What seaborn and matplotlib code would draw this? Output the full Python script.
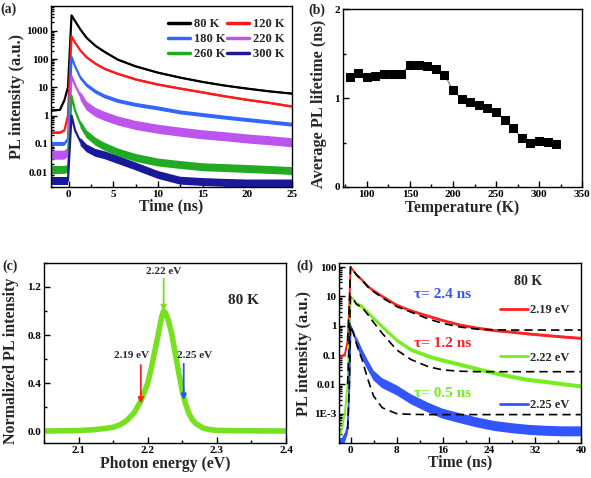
import numpy as np
import pandas as pd
import matplotlib
matplotlib.use("Agg")
import matplotlib.pyplot as plt
import matplotlib.ticker as mticker
import seaborn as sns

# ================= data =================
# (a) PL decay at different temperatures
t_a = [-2.0, -1.0, -0.5, -0.1, 0.3, 0.7, 1.3, 2.0, 3.0, 4.0, 5.5, 7.5,
       10, 12.5, 15, 17.5, 20, 22.5, 25]
pl_80k = [1.5, 1.6, 3.5, 10, 3500, 2200, 1100, 560, 290, 180, 95, 55,
          33, 22, 15.5, 11.5, 9.0, 7.2, 6.0]
pl_120k = [0.25, 0.25, 0.3, 1.0, 630, 380, 200, 115, 68, 45, 30, 19,
           12.5, 9.0, 6.6, 4.8, 3.6, 2.8, 2.1]
pl_180k = [0.1, 0.1, 0.1, 0.15, 120, 55, 22, 12, 7.0, 4.8, 3.3, 2.4,
           1.8, 1.3, 1.05, 0.85, 0.7, 0.58, 0.48]
pl_220k = [0.04, 0.04, 0.04, 0.05, 25, 12, 5.0, 2.2, 1.3, 0.95, 0.65, 0.45,
           0.33, 0.26, 0.21, 0.18, 0.15, 0.13, 0.11]
pl_260k = [0.012, 0.012, 0.012, 0.013, 5.0, 1.5, 0.5, 0.22, 0.12, 0.08, 0.05, 0.032,
           0.022, 0.018, 0.015, 0.014, 0.013, 0.012, 0.011]
pl_300k = [0.005, 0.005, 0.005, 0.005, 1.0, 0.3, 0.12, 0.07, 0.048, 0.04, 0.027, 0.016,
           0.008, 0.005, 0.0045, 0.0042, 0.004, 0.004, 0.004]
labels_a = ["80 K", "120 K", "180 K", "220 K", "260 K", "300 K"]
noise_a = [0.03, 0.04, 0.07, 0.16, 0.14, 0.14]   # noise band half width (decades)

# (b) average lifetime vs temperature
temp_b = [80, 90, 100, 110, 120, 130, 140, 150, 160, 170, 180, 190, 200,
          210, 220, 230, 240, 250, 260, 270, 280, 290, 300, 310, 320]
tau_b = [1.233, 1.286, 1.24, 1.25, 1.267, 1.267, 1.27, 1.376, 1.368, 1.357, 1.327, 1.263, 1.09,
         0.985, 0.959, 0.917, 0.883, 0.846, 0.752, 0.662, 0.549, 0.496, 0.515, 0.511, 0.485]

# (c) normalized PL spectrum at 80 K
energy_c = [2.05, 2.08, 2.10, 2.12, 2.14, 2.15, 2.16, 2.17, 2.18, 2.19, 2.20, 2.205,
            2.21, 2.215, 2.22, 2.223, 2.226, 2.23, 2.235, 2.24, 2.245, 2.25, 2.255,
            2.26, 2.265, 2.27, 2.28, 2.29, 2.30, 2.33, 2.40]
pl_c = [0.0, 0.002, 0.004, 0.010, 0.022, 0.032, 0.052, 0.09, 0.15, 0.25, 0.40, 0.52,
        0.66, 0.80, 0.95, 1.0, 0.98, 0.92, 0.80, 0.64, 0.48, 0.33, 0.22,
        0.14, 0.09, 0.06, 0.025, 0.011, 0.005, 0.002, 0.0]

# (d) PL decay at three photon energies, 80 K
t_d = [-2, -1.5, -1, -0.5, -0.2, 0, 0.5, 1, 2, 3, 4, 5.5, 8, 10.5, 13.5, 16,
       19, 22, 25, 28, 31, 34, 37, 40]
pl_219 = [0.08, 0.09, 0.1, 0.3, 5, 100, 75, 55, 36, 22, 15.5, 10, 5.0, 3.2, 2.1, 1.5,
          1.05, 0.82, 0.68, 0.6, 0.52, 0.46, 0.41, 0.37]
pl_222 = [1.5e-4, 3e-4, 1e-3, 0.01, 0.5, 10, 8, 5.5, 4.5, 2.8, 1.8, 0.93, 0.32, 0.15, 0.09, 0.065,
          0.047, 0.033, 0.024, 0.018, 0.014, 0.012, 0.010, 0.0085]
pl_225 = [1e-4, 1e-4, 1.5e-4, 3e-4, 0.01, 1.0, 0.6, 0.3, 0.11, 0.045, 0.02, 0.011, 0.0063,
          0.0031, 0.0016, 0.001, 7e-4, 5e-4, 3.8e-4, 3.2e-4, 2.8e-4, 2.6e-4, 2.5e-4, 2.5e-4]
t_fit = [-0.5, -0.2, 0, 0.5, 1, 2, 3, 4, 5.5, 8, 10.5, 13.5, 16, 19, 22, 25, 28, 31, 34, 37, 40]
fit_219 = [0.3, 5, 100, 75, 55, 35, 21, 14.5, 9, 4.5, 2.9, 1.7, 1.2, 0.9, 0.76, 0.72,
           0.71, 0.71, 0.71, 0.71, 0.71]
fit_222 = [0.01, 0.5, 10, 8, 5.5, 4.2, 2.4, 1.3, 0.55, 0.15, 0.07, 0.04, 0.031, 0.028, 0.027,
           0.027, 0.027, 0.027, 0.027, 0.027, 0.027]
fit_225 = [3e-4, 0.01, 1.0, 0.55, 0.25, 0.07, 0.015, 0.004, 0.0016, 0.001, 0.00095, 0.00093,
           0.00093, 0.00093, 0.00093, 0.00093, 0.00093, 0.00093, 0.00093, 0.00093, 0.00093]
labels_d = ["2.19 eV", "2.22 eV", "2.25 eV"]
noise_d = [0.05, 0.07, 0.17]
# ========================================

sns.set_theme(style="ticks")
plt.rcParams['font.family'] = ['Liberation Serif', 'DejaVu Serif']
plt.rcParams['font.weight'] = 'bold'
plt.rcParams['axes.labelweight'] = 'bold'

fig = plt.figure(figsize=(5.91, 4.78), dpi=100)
ax_a = fig.add_axes([0.0863, 0.6088, 0.4077, 0.3786])
ax_b = fig.add_axes([0.580, 0.6088, 0.405, 0.3722])
ax_c = fig.add_axes([0.0745, 0.0732, 0.4095, 0.3766])
ax_d = fig.add_axes([0.5736, 0.0732, 0.4094, 0.3766])

YLAB = 11.8
XLAB = 11.3


def style_axis(ax):
    for sp in ax.spines.values():
        sp.set_linewidth(1.0)
        sp.set_color('black')
    ax.tick_params(which='both', direction='in', width=1.0, colors='black',
                   labelsize=8, pad=2)
    ax.tick_params(which='major', length=4)
    ax.tick_params(which='minor', length=2)
    for lab in ax.get_xticklabels() + ax.get_yticklabels():
        lab.set_fontweight('bold')


# ---------- (a) ----------
colors_a = ['#000000', '#ff1a1a', '#3366ff', '#bb55ee', '#22aa22', '#1a1a99']
series_a = [pl_80k, pl_120k, pl_180k, pl_220k, pl_260k, pl_300k]
t_arr = np.array(t_a)
band_mask = (t_arr <= -0.1) | (t_arr >= 1.3)
for y, c, lab, s in zip(series_a, colors_a, labels_a, noise_a):
    y = np.array(y)
    sns.lineplot(x=t_a, y=y, ax=ax_a, color=c, lw=1.6, label=lab, sort=False)
    ax_a.fill_between(t_arr, y * 10 ** (-s), y * 10 ** s, where=band_mask,
                      color=c, lw=0, interpolate=True)
ax_a.set_yscale('log')
ax_a.set_xlim(-2, 25)
ax_a.set_ylim(0.003, 7500)
ax_a.set_xticks([0, 5, 10, 15, 20, 25])
ax_a.xaxis.set_minor_locator(mticker.MultipleLocator(2.5))
ax_a.set_yticks([0.01, 0.1, 1, 10, 100, 1000])
ax_a.set_yticklabels(['0.01', '0.1', '1', '10', '100', '1000'])
ax_a.yaxis.set_minor_locator(mticker.LogLocator(base=10, subs=np.arange(2, 10)))
ax_a.yaxis.set_minor_formatter(mticker.NullFormatter())
ax_a.set_xlabel('Time (ns)', fontsize=XLAB, labelpad=0)
ax_a.set_ylabel('PL intensity (a.u.)', fontsize=YLAB, labelpad=1)
handles, labs = ax_a.get_legend_handles_labels()
order = [0, 2, 4, 1, 3, 5]
leg = ax_a.legend([handles[i] for i in order], [labs[i] for i in order], ncol=2,
                  loc='upper right', bbox_to_anchor=(1.0, 0.975), frameon=False,
                  handlelength=1.8, handletextpad=0.3, columnspacing=0.1,
                  labelspacing=0.25, borderaxespad=0.2,
                  prop={'weight': 'bold', 'size': 9})
for ln in leg.get_lines():
    ln.set_linewidth(2.5)
style_axis(ax_a)

# ---------- (b) ----------
sns.lineplot(x=temp_b, y=tau_b, ax=ax_b, color='#777777', lw=0.8, marker='s',
             markersize=6, markerfacecolor='black', markeredgecolor='black')
ax_b.set_xlim(72, 350)
ax_b.set_ylim(0, 2)
ax_b.set_xticks([100, 150, 200, 250, 300, 350])
ax_b.xaxis.set_minor_locator(mticker.MultipleLocator(25))
ax_b.set_yticks([0, 1, 2])
ax_b.yaxis.set_minor_locator(mticker.MultipleLocator(0.5))
ax_b.set_xlabel('Temperature (K)', fontsize=XLAB, labelpad=1)
ax_b.set_ylabel('Average PL lifetime (ns)', fontsize=YLAB)
ax_b.yaxis.set_label_coords(-0.068, 0.47)
style_axis(ax_b)

# ---------- (c) ----------
green_c = '#77e020'
sns.lineplot(x=energy_c, y=pl_c, ax=ax_c, color=green_c, lw=4)
ax_c.set_xlim(2.05, 2.4)
ax_c.set_ylim(-0.1, 1.4)
ax_c.set_xticks([2.1, 2.2, 2.3, 2.4])
ax_c.xaxis.set_minor_locator(mticker.MultipleLocator(0.05))
ax_c.set_yticks([0.0, 0.4, 0.8, 1.2])
ax_c.yaxis.set_minor_locator(mticker.MultipleLocator(0.2))
ax_c.yaxis.set_major_formatter(mticker.FormatStrFormatter('%.1f'))
ax_c.set_xlabel('Photon energy (eV)', fontsize=XLAB, labelpad=1)
ax_c.set_ylabel('Normalized PL intensity', fontsize=YLAB - 0.3)
ax_c.yaxis.set_label_coords(-0.104, 0.455)
arrow_kw = dict(arrowstyle='-|>', lw=1.3, mutation_scale=8, shrinkA=0, shrinkB=0)
ax_c.annotate('', xy=(2.223, 1.0), xytext=(2.223, 1.27),
              arrowprops=dict(color=green_c, **arrow_kw))
ax_c.annotate('', xy=(2.19, 0.23), xytext=(2.19, 0.55),
              arrowprops=dict(color='#ff2020', **arrow_kw))
ax_c.annotate('', xy=(2.252, 0.26), xytext=(2.252, 0.56),
              arrowprops=dict(color='#2255ff', **arrow_kw))
ax_c.text(2.223, 1.325, '2.22 eV', ha='center', va='center', fontsize=8, fontweight='bold')
ax_c.text(2.176, 0.63, '2.19 eV', ha='center', va='center', fontsize=8, fontweight='bold')
ax_c.text(2.268, 0.63, '2.25 eV', ha='center', va='center', fontsize=8, fontweight='bold')
ax_c.text(2.339, 1.09, '80 K', ha='center', va='center', fontsize=11, fontweight='bold')
style_axis(ax_c)

# ---------- (d) ----------
colors_d = ['#ff2222', '#77ee22', '#3355ff']
series_d = [pl_219, pl_222, pl_225]
fits_d = [fit_219, fit_222, fit_225]
td_arr = np.array(t_d)
band_d = (td_arr <= -0.5) | (td_arr >= 1)
for y, c, lab, s in zip(series_d, colors_d, labels_d, noise_d):
    y = np.array(y)
    sns.lineplot(x=t_d, y=y, ax=ax_d, color=c, lw=1.4, label=lab, sort=False)
    ax_d.fill_between(td_arr, y * 10 ** (-s), y * 10 ** s, where=band_d,
                      color=c, lw=0, interpolate=True)
for f in fits_d:
    ax_d.plot(t_fit, f, color='black', lw=1.2, ls=(0, (5, 3)))
ax_d.set_yscale('log')
ax_d.set_xlim(-2, 40)
ax_d.set_ylim(1e-4, 137)
ax_d.set_xticks([0, 8, 16, 24, 32, 40])
ax_d.xaxis.set_minor_locator(mticker.MultipleLocator(4))
ax_d.set_yticks([1e-3, 0.01, 0.1, 1, 10, 100])
ax_d.set_yticklabels(['1E-3', '0.01', '0.1', '1', '10', '100'])
ax_d.yaxis.set_minor_locator(mticker.LogLocator(base=10, subs=np.arange(2, 10)))
ax_d.yaxis.set_minor_formatter(mticker.NullFormatter())
ax_d.set_xlabel('Time (ns)', fontsize=XLAB, labelpad=0)
ax_d.set_ylabel('PL intensity (a.u.)', fontsize=YLAB, labelpad=1)
leg_d = ax_d.legend(loc='upper right', bbox_to_anchor=(1.0, 0.835), frameon=False,
                    handlelength=2.2, handletextpad=0.2, labelspacing=2.85,
                    prop={'weight': 'bold', 'size': 9})
for ln in leg_d.get_lines():
    ln.set_linewidth(2.0)
ax_d.text(30.8, 31, '80 K', ha='center', va='center', fontsize=10, fontweight='bold')
ax_d.text(11, 12, 'τ= 2.4 ns', color='#3355ff', ha='left', va='center', fontsize=11, fontweight='bold')
ax_d.text(11, 0.24, 'τ= 1.2 ns', color='#ff2222', ha='left', va='center', fontsize=11, fontweight='bold')
ax_d.text(11, 0.0048, 'τ= 0.5 ns', color='#77ee22', ha='left', va='center', fontsize=11, fontweight='bold')
style_axis(ax_d)

# panel labels
for x, y, s in [(0.001, 0.995, '(a)'), (0.522, 0.992, '(b)'),
                (0.004, 0.457, '(c)'), (0.502, 0.457, '(d)')]:
    fig.text(x, y, s, fontsize=10, fontweight='bold', va='top', ha='left')

fig.savefig('out.png', dpi=100)
